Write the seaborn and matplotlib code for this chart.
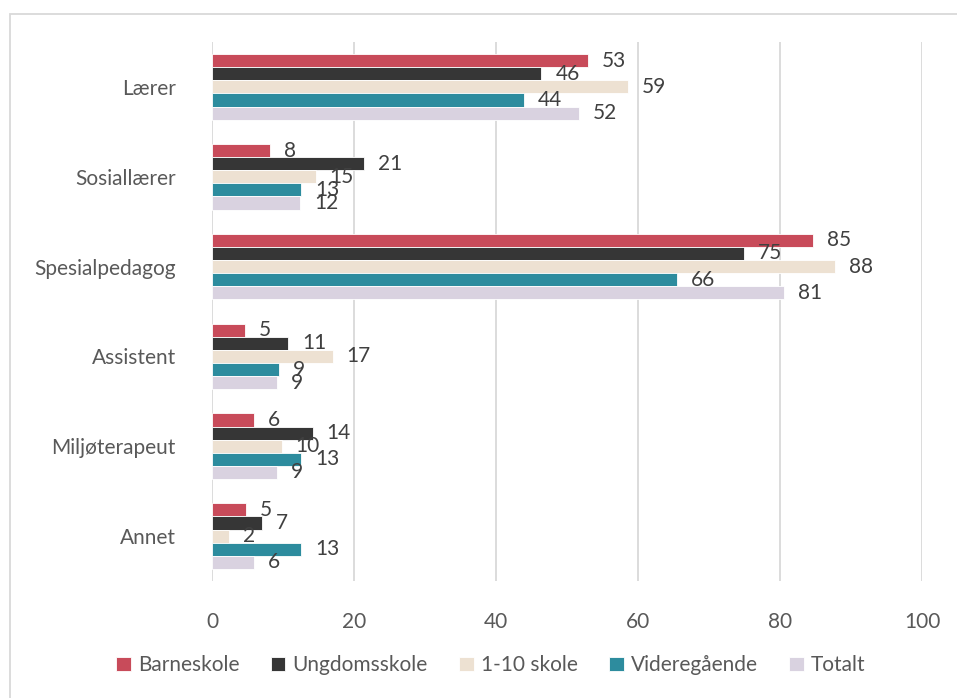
import pandas as pd
import seaborn as sns
import matplotlib.pyplot as plt
from matplotlib.patches import Rectangle

# categories and series
roles = ['Lærer', 'Sosiallærer', 'Spesialpedagog', 'Assistent', 'Miljøterapeut', 'Annet']
series = ['Barneskole', 'Ungdomsskole', '1-10 skole', 'Videregående', 'Totalt']

barneskole = [53.0, 8.2, 84.6, 4.7, 5.9, 4.8]
ungdomsskole = [46.4, 21.4, 74.9, 10.7, 14.2, 7.0]
en_til_ti = [58.6, 14.6, 87.7, 17.0, 9.8, 2.4]
videregaende = [43.9, 12.6, 65.5, 9.4, 12.6, 12.6]
totalt = [51.7, 12.4, 80.6, 9.1, 9.1, 5.9]

colors = ['#C84B5A', '#363636', '#EDE1D2', '#2D8C9E', '#D9D2E0']
text_col = '#595959'

values = [barneskole, ungdomsskole, en_til_ti, videregaende, totalt]
rows = []
for name, vals in zip(series, values):
    for role, v in zip(roles, vals):
        rows.append({'rolle': role, 'gruppe': name, 'prosent': v})
df = pd.DataFrame(rows)

sns.set_style('white')
plt.rcParams['font.family'] = ['Lato', 'DejaVu Sans']

fig = plt.figure(figsize=(9.57, 6.98), dpi=100)
ax = fig.add_axes([0.2215, 0.1676, 0.7419, 0.7722])

sns.barplot(data=df, y='rolle', x='prosent', hue='gruppe', order=roles,
            hue_order=series, palette=colors, saturation=1, orient='h',
            width=0.73, edgecolor='white', linewidth=0.6, ax=ax)

for cont in ax.containers:
    ax.bar_label(cont, labels=[f'{round(w.get_width()):d}' for w in cont],
                 padding=10, fontsize=15, color='#404040')

ax.set_xlim(0, 100)
ax.set_xticks(range(0, 101, 20))
ax.set_xlabel('')
ax.set_ylabel('')
ax.xaxis.grid(True, color='#D9D9D9', linewidth=1.3)
ax.set_axisbelow(True)
for s in ax.spines.values():
    s.set_visible(False)
ax.tick_params(axis='x', length=0, pad=22, labelsize=15, labelcolor=text_col)
ax.tick_params(axis='y', length=0, pad=26, labelsize=15, labelcolor=text_col)

ax.get_legend().remove()
handles, labels = ax.get_legend_handles_labels()
fig.legend(handles, labels, loc='center', bbox_to_anchor=(0.513, 0.047), ncol=5,
           frameon=False, fontsize=15, handlelength=0.7, handleheight=0.7,
           handletextpad=0.35, columnspacing=1.5, labelcolor=text_col)

# light chart-area border (only top/left visible in the reference)
fig.patches.append(Rectangle((10 / 957, -0.1), 1.2, 1.1 - 14 / 698,
                             transform=fig.transFigure, fill=False,
                             edgecolor='#D9D9D9', linewidth=1.3))

fig.savefig('out.png', dpi=100)
